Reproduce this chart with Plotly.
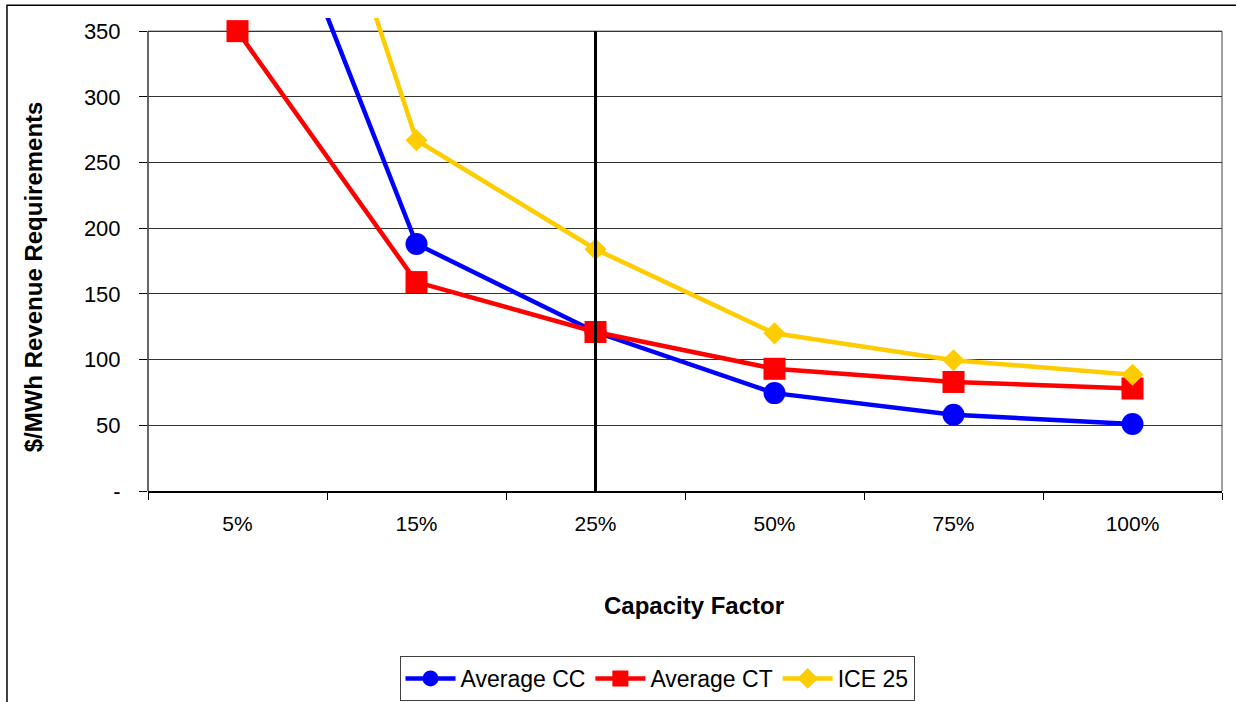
import plotly.graph_objects as go

categories = ["5%", "15%", "25%", "50%", "75%", "100%"]
avg_cc = [535, 188, 121, 74.5, 58, 51]
avg_ct = [350, 159, 121, 93, 83, 78]
ice_25 = [680, 267, 184, 120, 99.5, 88.5]
y_tickvals = [0, 50, 100, 150, 200, 250, 300, 350]
y_ticktext = ["-", "50", "100", "150", "200", "250", "300", "350"]
ref_category = "25%"

FONT = "Liberation Sans, Arial, sans-serif"

fig = go.Figure()
fig.add_trace(go.Scatter(x=categories, y=avg_cc, name="Average CC", mode="lines+markers",
                         line=dict(color="#0000FF", width=4.5),
                         marker=dict(symbol="circle", size=22, color="#0000FF")))
fig.add_trace(go.Scatter(x=categories, y=avg_ct, name="Average CT", mode="lines+markers",
                         line=dict(color="#FF0000", width=4.5),
                         marker=dict(symbol="square", size=22, color="#FF0000")))
fig.add_trace(go.Scatter(x=categories, y=ice_25, name="ICE 25", mode="lines+markers",
                         line=dict(color="#FFCC00", width=4.5),
                         marker=dict(symbol="diamond", size=17, color="#FFCC00")))

ymax = y_tickvals[-1]
shapes = [
    dict(type="line", xref="paper", yref="y", x0=0, x1=1, y0=ymax, y1=ymax,
         line=dict(color="#808080", width=1.5), layer="below"),
    dict(type="line", xref="paper", yref="y", x0=1, x1=1, y0=0, y1=ymax,
         line=dict(color="#808080", width=1.5), layer="below"),
    dict(type="line", xref="paper", yref="y", x0=0, x1=0, y0=0, y1=ymax,
         line=dict(color="#333333", width=1.5), layer="below"),
    dict(type="line", xref="x", yref="y", x0=ref_category, x1=ref_category, y0=0, y1=ymax,
         line=dict(color="#000000", width=3), layer="above"),
    dict(type="rect", xref="paper", yref="paper", x0=-0.1313, x1=1.03, y0=-0.6, y1=1.027,
         line=dict(color="#000000", width=1.5), fillcolor="rgba(0,0,0,0)", layer="below"),
]

fig.update_layout(
    width=1236, height=702, autosize=False,
    margin=dict(l=148, r=14, t=18, b=211, autoexpand=False),
    paper_bgcolor="white", plot_bgcolor="white",
    font=dict(family=FONT, size=21, color="#000000"),
    showlegend=True,
    legend=dict(orientation="h", xref="container", yref="container",
                x=657 / 1236, xanchor="center", y=1 - 656 / 702, yanchor="top",
                bordercolor="#404040", borderwidth=1, bgcolor="white",
                font=dict(family=FONT, size=23, color="#000000"),
                itemwidth=50, tracegroupgap=0),
    shapes=shapes,
    annotations=[
        dict(text="<b>Capacity Factor</b>", xref="paper", yref="paper",
             x=0.508, y=(490.7 - 605) / 473, xanchor="center", yanchor="middle",
             showarrow=False, font=dict(family=FONT, size=24, color="#000000")),
        dict(text="<b>$/MWh Revenue Requirements</b>", xref="paper", yref="paper",
             x=(33 - 148) / 1074, y=(490.7 - 277) / 473, xanchor="center", yanchor="middle",
             textangle=-90, showarrow=False, font=dict(family=FONT, size=24, color="#000000")),
    ],
)

fig.update_xaxes(type="category", range=[-0.5, 5.5], showgrid=False,
                 showline=True, linecolor="#000000", linewidth=1.5,
                 ticks="outside", ticklen=7, tickcolor="#000000", tickson="boundaries",
                 ticklabelstandoff=13,
                 tickfont=dict(family=FONT, size=21, color="#000000"), zeroline=False)
fig.update_yaxes(range=[0, 360], tickvals=y_tickvals, ticktext=y_ticktext,
                 showgrid=True, gridcolor="#333333", gridwidth=1,
                 showline=False, ticks="outside", ticklen=8, tickcolor="#000000",
                 ticklabelstandoff=14,
                 tickfont=dict(family=FONT, size=22, color="#000000"), zeroline=False)

fig.write_html("out.html", config={"displayModeBar": False},
               post_script="document.body.style.margin='0px';document.documentElement.style.overflow='hidden';")
